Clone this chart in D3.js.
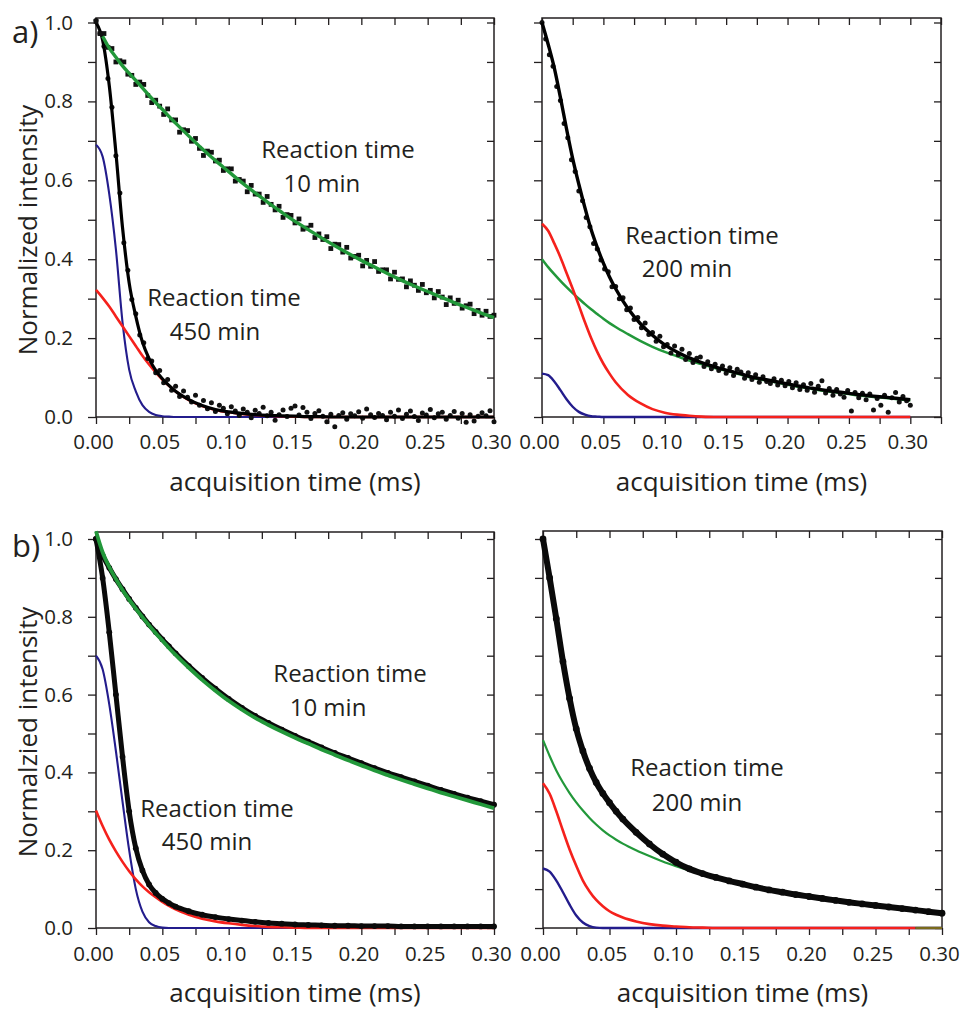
<!DOCTYPE html>
<html>
<head>
<meta charset="utf-8">
<script src="https://cdn.jsdelivr.net/npm/d3@7"></script>
<style>
  body { margin: 0; background: #fff; }
  svg text { font-family: "Open Sans", sans-serif; fill: #231f20; }
</style>
</head>
<body>
<div id="chart"></div>
<script>
// acquisition times of the fitted curves (ms)
const tFit = [0, 0.005, 0.01, 0.015, 0.02, 0.025, 0.03, 0.035, 0.04, 0.045, 0.05, 0.055, 0.06,
  0.07, 0.08, 0.09, 0.10, 0.11, 0.12, 0.13, 0.14, 0.15, 0.16, 0.17, 0.18, 0.19, 0.20,
  0.21, 0.22, 0.23, 0.24, 0.25, 0.26, 0.27, 0.28, 0.29, 0.30];

// acquisition times of the measured points in panel a) (ms)
const tScatter = [0.000, 0.003, 0.006, 0.009, 0.012, 0.015, 0.018, 0.021, 0.024, 0.027,
  0.030, 0.033, 0.036, 0.039, 0.042, 0.045, 0.048, 0.051, 0.054, 0.057,
  0.060, 0.063, 0.066, 0.069, 0.072, 0.075, 0.078, 0.081, 0.084, 0.087,
  0.090, 0.093, 0.096, 0.099, 0.102, 0.105, 0.108, 0.111, 0.114, 0.117,
  0.120, 0.123, 0.126, 0.129, 0.132, 0.135, 0.138, 0.141, 0.144, 0.147,
  0.150, 0.153, 0.156, 0.159, 0.162, 0.165, 0.168, 0.171, 0.174, 0.177,
  0.180, 0.183, 0.186, 0.189, 0.192, 0.195, 0.198, 0.201, 0.204, 0.207,
  0.210, 0.213, 0.216, 0.219, 0.222, 0.225, 0.228, 0.231, 0.234, 0.237,
  0.240, 0.243, 0.246, 0.249, 0.252, 0.255, 0.258, 0.261, 0.264, 0.267,
  0.270, 0.273, 0.276, 0.279, 0.282, 0.285, 0.288, 0.291, 0.294, 0.297,
  0.300];

// ---- a) measured points
const aData10 = [1.003, 0.972, 0.972, 0.937, 0.934, 0.900, 0.903, 0.900, 0.869, 0.866,
  0.843, 0.849, 0.843, 0.815, 0.797, 0.803, 0.788, 0.767, 0.781, 0.753,
  0.753, 0.722, 0.728, 0.726, 0.699, 0.706, 0.681, 0.663, 0.674, 0.671,
  0.649, 0.651, 0.625, 0.629, 0.629, 0.598, 0.602, 0.598, 0.571, 0.587,
  0.565, 0.565, 0.544, 0.559, 0.539, 0.525, 0.534, 0.506, 0.513, 0.511,
  0.492, 0.502, 0.476, 0.479, 0.486, 0.455, 0.464, 0.450, 0.457, 0.427,
  0.438, 0.437, 0.418, 0.430, 0.403, 0.407, 0.410, 0.383, 0.397, 0.382,
  0.394, 0.369, 0.373, 0.373, 0.350, 0.367, 0.349, 0.350, 0.330, 0.345,
  0.334, 0.321, 0.336, 0.315, 0.321, 0.302, 0.318, 0.304, 0.285, 0.302,
  0.288, 0.296, 0.276, 0.282, 0.286, 0.262, 0.270, 0.258, 0.268, 0.255,
  0.258];
const aData450 = [1.005, 0.972, 0.940, 0.858, 0.785, 0.662, 0.568, 0.442, 0.372, 0.298,
  0.262, 0.208, 0.188, 0.148, 0.142, 0.112, 0.118, 0.087, 0.095, 0.068,
  0.078, 0.052, 0.066, 0.050, 0.038, 0.055, 0.030, 0.042, 0.021, 0.036,
  0.014, 0.030, 0.022, 0.008, 0.026, 0.015, 0.004, 0.020, 0.012, -0.002,
  0.017, 0.009, 0.025, 0.003, 0.012, -0.008, 0.006, 0.018, 0.001, 0.022,
  0.028, 0.005, 0.024, 0.012, -0.004, 0.009, 0.016, 0.002, -0.012, 0.007,
  -0.025, 0.004, 0.011, -0.006, 0.008, 0.003, 0.013, -0.003, 0.020, 0.006,
  -0.001, 0.009, 0.004, -0.007, 0.012, 0.002, 0.018, -0.004, 0.007, 0.015,
  0.001, -0.009, 0.010, 0.005, 0.019, -0.002, 0.008, 0.012, -0.006, 0.004,
  0.014, -0.003, 0.009, -0.013, 0.006, -0.010, 0.002, 0.011, 0.003, 0.016,
  -0.012];
const aData200 = [1.000, 0.958, 0.918, 0.889, 0.838, 0.802, 0.744, 0.708, 0.652, 0.622,
  0.573, 0.548, 0.506, 0.482, 0.440, 0.426, 0.398, 0.375, 0.368, 0.330,
  0.331, 0.300, 0.302, 0.272, 0.276, 0.247, 0.252, 0.226, 0.238, 0.209,
  0.214, 0.192, 0.205, 0.178, 0.184, 0.162, 0.180, 0.158, 0.172, 0.146,
  0.161, 0.138, 0.149, 0.152, 0.128, 0.140, 0.122, 0.134, 0.118, 0.129,
  0.111, 0.125, 0.105, 0.121, 0.114, 0.098, 0.112, 0.095, 0.107, 0.088,
  0.102, 0.090, 0.085, 0.097, 0.081, 0.093, 0.079, 0.090, 0.074, 0.087,
  0.070, 0.082, 0.068, 0.085, 0.063, 0.078, 0.092, 0.061, 0.072, 0.055,
  0.070, 0.058, 0.050, 0.067, 0.015, 0.062, 0.049, 0.060, 0.044, 0.058,
  0.018, 0.047, 0.030, 0.055, 0.012, 0.049, 0.062, 0.038, 0.052, 0.041,
  0.030];

// ---- a) fits
const aGreen10 = [null, 0.965, 0.935, 0.912, 0.890, 0.871, 0.853, 0.834, 0.815, 0.797, 0.780, 0.762, 0.745,
  0.712, 0.680, 0.650, 0.622, 0.594, 0.568, 0.543, 0.519, 0.496, 0.475, 0.454, 0.434, 0.415, 0.397,
  0.380, 0.363, 0.347, 0.332, 0.318, 0.304, 0.290, 0.277, 0.264, 0.252];
const aBlack450 = [1.000, 0.955, 0.840, 0.670, 0.480, 0.340, 0.255, 0.190, 0.148, 0.118, 0.097, 0.080, 0.065,
  0.044, 0.029, 0.019, 0.013, 0.009, 0.006, 0.004, 0.003, 0.002, 0.001, 0.001, 0, 0, 0,
  0, 0, 0, 0, 0, 0, 0, 0, 0, 0];
const aRed450 = [0.322, 0.302, 0.280, 0.255, 0.230, 0.205, 0.180, 0.155, 0.133, 0.113, 0.095, 0.079, 0.065,
  0.043, 0.028, 0.018, 0.012, 0.008, 0.005, 0.003, 0.002, 0.001, 0, 0, 0, 0, 0,
  0, 0, 0, 0, 0, 0, 0, 0, 0, 0];
const aBlue450 = [0.690, 0.660, 0.565, 0.425, 0.240, 0.120, 0.065, 0.030, 0.013, 0.005, 0.002, 0.001, 0,
  0, 0, 0, 0, 0, 0, 0, 0, 0, 0, 0, 0, 0, 0,
  0, 0, 0, 0, 0, 0, 0, 0, 0, 0];
const aBlack200 = [1.000, 0.945, 0.885, 0.810, 0.730, 0.655, 0.590, 0.530, 0.475, 0.430, 0.390, 0.355, 0.325,
  0.275, 0.237, 0.207, 0.183, 0.165, 0.150, 0.138, 0.128, 0.119, 0.111, 0.102, 0.096, 0.090, 0.084,
  0.078, 0.073, 0.068, 0.064, 0.060, 0.056, 0.053, 0.050, 0.047, 0.044];
const aGreen200 = [0.400, 0.380, 0.362, 0.345, 0.329, 0.314, 0.300, 0.286, 0.273, 0.261, 0.249, 0.238, 0.228,
  0.210, 0.193, 0.178, 0.165, 0.154, 0.143, 0.134, 0.125, 0.117, 0.109, 0.100, 0.094, 0.088, 0.082,
  0.076, 0.071, 0.066, 0.062, 0.058, 0.054, 0.051, 0.048, 0.045, 0.042];
const aRed200 = [0.490, 0.472, 0.440, 0.405, 0.365, 0.325, 0.283, 0.240, 0.200, 0.165, 0.135, 0.110, 0.088,
  0.056, 0.035, 0.020, 0.011, 0.006, 0.003, 0.001, 0, 0, 0, 0, 0, 0, 0,
  0, 0, 0, 0, 0, 0, 0, 0, 0, 0];
const aBlue200 = [0.110, 0.106, 0.090, 0.068, 0.045, 0.026, 0.013, 0.006, 0.002, 0.001, 0, 0, 0,
  0, 0, 0, 0, 0, 0, 0, 0, 0, 0, 0, 0, 0, 0,
  0, 0, 0, 0, 0, 0, 0, 0, 0, 0];

// ---- b) measured (dense) data and fits
const bData10 = [1.000, 0.958, 0.926, 0.897, 0.871, 0.846, 0.823, 0.801, 0.780, 0.761, 0.742, 0.724, 0.706,
  0.673, 0.643, 0.615, 0.589, 0.566, 0.545, 0.527, 0.510, 0.494, 0.479, 0.464, 0.450, 0.437, 0.424,
  0.411, 0.399, 0.388, 0.377, 0.366, 0.355, 0.345, 0.335, 0.326, 0.317];
const bGreen10 = [1.020, 0.966, 0.928, 0.897, 0.869, 0.844, 0.821, 0.799, 0.778, 0.758, 0.739, 0.720, 0.702,
  0.669, 0.638, 0.610, 0.584, 0.561, 0.540, 0.522, 0.505, 0.489, 0.474, 0.459, 0.445, 0.431, 0.418,
  0.405, 0.393, 0.381, 0.370, 0.359, 0.348, 0.338, 0.328, 0.318, 0.308];
const bData450 = [1.000, 0.900, 0.760, 0.600, 0.440, 0.300, 0.205, 0.148, 0.112, 0.090, 0.075, 0.064, 0.055,
  0.043, 0.034, 0.028, 0.023, 0.019, 0.016, 0.013, 0.011, 0.009, 0.008, 0.007, 0.006, 0.006, 0.005,
  0.005, 0.005, 0.004, 0.004, 0.004, 0.004, 0.004, 0.004, 0.004, 0.004];
const bRed450 = [0.302, 0.262, 0.227, 0.197, 0.170, 0.146, 0.125, 0.107, 0.092, 0.079, 0.067, 0.057, 0.048,
  0.034, 0.024, 0.017, 0.012, 0.008, 0.005, 0.003, 0.002, 0.001, 0, 0, 0, 0, 0,
  0, 0, 0, 0, 0, 0, 0, 0, 0, 0];
const bBlue450 = [0.700, 0.665, 0.575, 0.455, 0.325, 0.200, 0.100, 0.042, 0.015, 0.005, 0.001, 0, 0,
  0, 0, 0, 0, 0, 0, 0, 0, 0, 0, 0, 0, 0, 0,
  0, 0, 0, 0, 0, 0, 0, 0, 0, 0];
const bData200 = [1.000, 0.900, 0.795, 0.685, 0.590, 0.512, 0.455, 0.410, 0.374, 0.346, 0.322, 0.300, 0.280,
  0.246, 0.216, 0.190, 0.169, 0.152, 0.140, 0.130, 0.121, 0.113, 0.105, 0.098, 0.092, 0.086, 0.081,
  0.076, 0.071, 0.066, 0.062, 0.058, 0.054, 0.050, 0.046, 0.042, 0.038];
const bGreen200 = [0.483, 0.442, 0.405, 0.374, 0.347, 0.323, 0.302, 0.283, 0.266, 0.251, 0.238, 0.227, 0.217,
  0.200, 0.185, 0.171, 0.159, 0.148, 0.138, 0.128, 0.119, 0.111, 0.103, 0.096, 0.090, 0.084, 0.079,
  0.074, 0.069, 0.064, 0.060, 0.056, 0.052, 0.048, 0.044, 0.040, 0.036];
const bRed200 = [0.372, 0.345, 0.300, 0.250, 0.202, 0.160, 0.122, 0.094, 0.072, 0.056, 0.043, 0.034, 0.027,
  0.017, 0.010, 0.006, 0.004, 0.002, 0.001, 0, 0, 0, 0, 0, 0, 0, 0,
  0, 0, 0, 0, 0, 0, 0, 0, 0, 0];
const bBlue200 = [0.153, 0.145, 0.122, 0.092, 0.060, 0.032, 0.014, 0.005, 0.001, 0, 0, 0, 0,
  0, 0, 0, 0, 0, 0, 0, 0, 0, 0, 0, 0, 0, 0,
  0, 0, 0, 0, 0, 0, 0, 0, 0, 0];

// ticks
const yTicks = [0, 0.1, 0.2, 0.3, 0.4, 0.5, 0.6, 0.7, 0.8, 0.9, 1.0];
const xTicks = [0, 0.025, 0.05, 0.075, 0.10, 0.125, 0.15, 0.175, 0.20, 0.225, 0.25, 0.275, 0.30];
const xTicksWide = xTicks.concat([0.325]);

const GREEN = '#22983a', RED = '#f5211c', BLUE = '#231c8c', INK = '#231f20', OLIVE = '#7a6a1c';

const svg = d3.select('#chart').append('svg')
  .attr('width', 960)
  .attr('height', 1009);

const panels = [
  { left: 96, right: 494, xMax: 0.30, top: 22.5, bottom: 417, frameTop: 18, xt: xTicks, yLabels: true,
    labelPad: 10, titleY: 491, yTitle: 'Normalized intensity', yTitleY: 230, tag: 'a)', tagY: 43,
    notes: [['Reaction time', 0.1824, 0.657], ['10 min', 0.1703, 0.570],
            ['Reaction time', 0.0965, 0.281], ['450 min', 0.0897, 0.195]],
    layers: [
      { type: 'line', v: aBlue450, color: BLUE, w: 2.1 },
      { type: 'line', v: aRed450, color: RED, w: 2.6 },
      { type: 'dots', v: aData450, shape: 'circle' },
      { type: 'line', v: aBlack450, color: '#000', w: 3.2 },
      { type: 'dots', v: aData10, shape: 'square' },
      { type: 'line', v: aGreen10, color: GREEN, w: 3.4 }
    ] },
  { left: 542, right: 941, xMax: 0.325, top: 22.5, bottom: 417, frameTop: 18, xt: xTicksWide, yLabels: false,
    labelPad: 10, titleY: 491,
    notes: [['Reaction time', 0.1303, 0.4385], ['200 min', 0.1181, 0.355]],
    layers: [
      { type: 'line', v: aBlue200, color: BLUE, w: 2.4 },
      { type: 'line', v: aGreen200, color: GREEN, w: 2.5 },
      { type: 'line', v: aRed200, color: RED, w: 2.6 },
      { type: 'dots', v: aData200, shape: 'circle' },
      { type: 'line', v: aBlack200, color: '#000', w: 3.4 }
    ] },
  { left: 96, right: 494, xMax: 0.30, top: 539, bottom: 928, frameTop: 532, xt: xTicks, yLabels: true,
    labelPad: 11, titleY: 1002, yTitle: 'Normalzied intensity', yTitleY: 732, tag: 'b)', tagY: 557,
    notes: [['Reaction time', 0.1915, 0.632], ['10 min', 0.1749, 0.545],
            ['Reaction time', 0.0912, 0.285], ['450 min', 0.0837, 0.200]],
    layers: [
      { type: 'line', v: bBlue450, color: BLUE, w: 2.1 },
      { type: 'line', v: bRed450, color: RED, w: 2.6 },
      { type: 'band', v: bData450, w: 5 },
      { type: 'band', v: bData10, w: 5 },
      { type: 'line', v: bGreen10, color: GREEN, w: 3.8 }
    ] },
  { left: 543, right: 942, xMax: 0.30, top: 539, bottom: 928, frameTop: 531, xt: xTicks, yLabels: false,
    labelPad: 11, titleY: 1002,
    notes: [['Reaction time', 0.1233, 0.391], ['200 min', 0.1158, 0.301]],
    layers: [
      { type: 'line', v: bBlue200, color: BLUE, w: 2.4 },
      { type: 'line', v: bRed200, color: RED, w: 2.6, to: 0.28 },
      { type: 'line', v: bRed200, color: OLIVE, w: 2.6, from: 0.28 },
      { type: 'line', v: bGreen200, color: GREEN, w: 2.2 },
      { type: 'band', v: bData200, w: 6 }
    ] }
];

function styleAxis(g) {
  g.select('.domain').remove();
  g.selectAll('.tick line').attr('stroke', INK).attr('stroke-width', 1.3);
  g.selectAll('.tick text').style('font-size', '20.5px').attr('fill', INK);
}

panels.forEach(p => {
  const x = d3.scaleLinear().domain([0, p.xMax]).range([p.left, p.right]);
  const y = d3.scaleLinear().domain([0, 1]).range([p.bottom, p.top]);
  const g = svg.append('g');

  // frame
  g.append('rect')
    .attr('x', p.left).attr('y', p.frameTop)
    .attr('width', p.right - p.left).attr('height', p.bottom - p.frameTop)
    .attr('fill', 'none').attr('stroke', INK).attr('stroke-width', 1.5);

  // axes
  const isLabel = d => Math.round(d * 1000) % 50 === 0 && d <= 0.3001;
  g.append('g').attr('transform', `translate(0,${p.bottom})`)
    .call(d3.axisBottom(x).tickValues(p.xt).tickSize(7).tickPadding(p.labelPad)
      .tickFormat(d => isLabel(d) ? d.toFixed(2) : ''))
    .call(styleAxis)
    .selectAll('.tick text').attr('dx', -3);
  g.append('g').attr('transform', `translate(0,${p.frameTop})`)
    .call(d3.axisTop(x).tickValues(p.xt).tickSize(-7).tickFormat(''))
    .call(styleAxis);
  g.append('g').attr('transform', `translate(${p.left},0)`)
    .call(d3.axisLeft(y).tickValues(yTicks).tickSize(8).tickPadding(15)
      .tickFormat((d, i) => (p.yLabels && i % 2 === 0) ? d.toFixed(1) : ''))
    .call(styleAxis);
  g.append('g').attr('transform', `translate(${p.right},0)`)
    .call(d3.axisRight(y).tickValues(yTicks).tickSize(-7).tickFormat(''))
    .call(styleAxis);

  // curves and points
  p.layers.forEach(L => {
    if (L.type === 'line') {
      const from = L.from === undefined ? -1 : L.from;
      const to = L.to === undefined ? 1 : L.to;
      const line = d3.line()
        .defined((d, i) => d !== null && tFit[i] >= from - 1e-9 && tFit[i] <= to + 1e-9)
        .x((d, i) => x(tFit[i]))
        .y(d => y(d))
        .curve(d3.curveMonotoneX);
      g.append('path').datum(L.v)
        .attr('d', line)
        .attr('fill', 'none')
        .attr('stroke', L.color)
        .attr('stroke-width', L.w)
        .attr('stroke-linejoin', 'round');
    } else if (L.type === 'dots') {
      if (L.shape === 'square') {
        g.append('g').selectAll('rect').data(L.v).join('rect')
          .attr('x', (d, i) => x(tScatter[i]) - 2.4)
          .attr('y', d => y(d) - 2.4)
          .attr('width', 4.8).attr('height', 4.8)
          .attr('fill', '#111');
      } else {
        g.append('g').selectAll('circle').data(L.v).join('circle')
          .attr('cx', (d, i) => x(tScatter[i]))
          .attr('cy', d => y(d))
          .attr('r', 2.5)
          .attr('fill', '#111');
      }
    } else if (L.type === 'band') {
      const line = d3.line()
        .x((d, i) => x(tFit[i]))
        .y(d => y(d))
        .curve(d3.curveMonotoneX);
      g.append('path').datum(L.v)
        .attr('d', line)
        .attr('fill', 'none')
        .attr('stroke', '#0a0a0a')
        .attr('stroke-width', L.w)
        .attr('stroke-linecap', 'round');
      g.append('g').selectAll('circle').data(L.v).join('circle')
        .attr('cx', (d, i) => x(tFit[i]))
        .attr('cy', d => y(d))
        .attr('r', L.w / 2 + 0.4)
        .attr('fill', '#0a0a0a');
    }
  });

  // annotations
  p.notes.forEach(n => {
    g.append('text')
      .attr('x', x(n[1])).attr('y', y(n[2]))
      .attr('text-anchor', 'middle')
      .style('font-size', '24px')
      .text(n[0]);
  });

  // axis titles
  g.append('text')
    .attr('x', (p.left + p.right) / 2).attr('y', p.titleY)
    .attr('text-anchor', 'middle')
    .style('font-size', '26px')
    .text('acquisition time (ms)');
  if (p.yTitle) {
    g.append('text')
      .attr('transform', `translate(37,${p.yTitleY}) rotate(-90)`)
      .attr('text-anchor', 'middle')
      .style('font-size', '26px')
      .text(p.yTitle);
    g.append('text')
      .attr('x', 12).attr('y', p.tagY)
      .style('font-size', '31px')
      .text(p.tag);
  }
});
</script>
</body>
</html>
